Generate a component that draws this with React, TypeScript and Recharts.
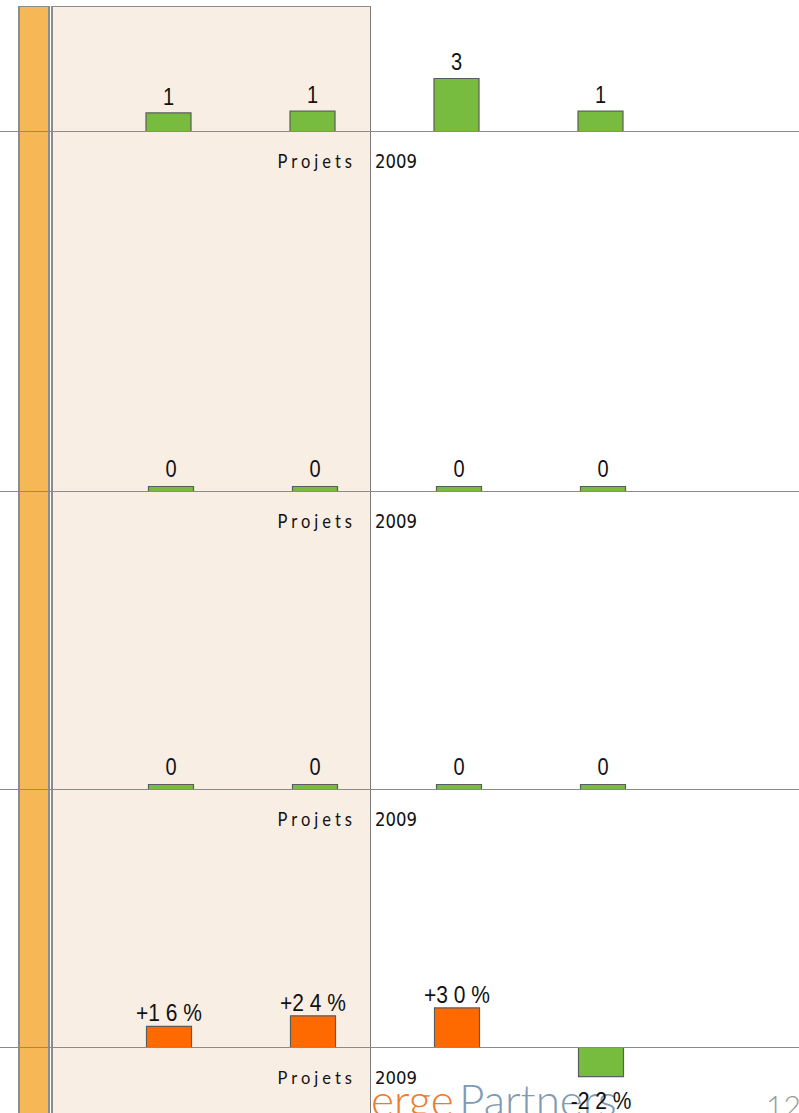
import React from 'react';
import { BarChart, Bar, XAxis, YAxis, ReferenceLine, LabelList, Cell } from 'recharts';

// ---- data ----
const categories = ['c1', 'c2', 'c3', 'c4'];
const projetsValues = [1.05, 1.15, 3, 1.15];
const projetsLabels = ['1', '1', '3', '1'];
const secondValues = [0, 0, 0, 0];
const secondLabels = ['0', '0', '0', '0'];
const thirdValues = [0, 0, 0, 0];
const thirdLabels = ['0', '0', '0', '0'];
const growthValues = [16, 24, 30, -22];
const growthLabels = ['+1 6 %', '+2 4 %', '+3 0 %', '-2 2 %'];
const rowTitle = 'Projets';
const yearTitle = '2009';
const footerA = 'erge';
const footerB = 'Partners';
const pageNumber = '12';

// ---- styles ----
const W = 799;
const BAND = 144;
const GREEN = '#77BB3F';
const ORANGE = '#FF6A00';
const STROKE = '#5c5c5c';
const LINE = '#8a8a8a';

type PanelProps = {
  top: number;
  height: number;
  baseline: number;
  pxPerUnit: number;
  padLeft: number;
  values: number[];
  labels: string[];
  colors: string[];
  minPoint: number;
  gapAbove: number;
  gapBelow: number;
  labelSize: number;
  stretch: number;
};

const makeLabel = (gapAbove: number, gapBelow: number, size: number, stretch: number) => (props: any) => {
  const vb = props.viewBox && props.viewBox.width !== undefined ? props.viewBox : props;
  const x = Number(vb.x);
  const y = Number(vb.y);
  const w = Number(vb.width);
  const h = Number(vb.height);
  const top = Math.min(y, y + h);
  const bottom = Math.max(y, y + h);
  const text = String(props.value ?? '');
  const neg = text.startsWith('-');
  const cx = x + w / 2;
  const by = neg ? bottom + gapBelow : top - gapAbove;
  return (
    <text
      x={cx}
      y={by}
      textAnchor="middle"
      fontFamily="'Liberation Sans', Arial, sans-serif"
      fontSize={size}
      fill="#111"
      transform={`translate(0 ${by}) scale(1 ${stretch}) translate(0 ${-by})`}
    >
      {text}
    </text>
  );
};

const makeHeader = (stretch: number) => (props: any) => {
  const vb = props.viewBox || {};
  const y = Number(vb.y ?? 0) + 37;
  return (
    <g>
      <text
        x={356}
        y={y}
        textAnchor="end"
        fontFamily="Lato, 'Open Sans', sans-serif"
        fontSize={16.5}
        letterSpacing={4}
        fill="#111"
        transform={`translate(0 ${y}) scale(1 ${stretch}) translate(0 ${-y})`}
      >
        {rowTitle}
      </text>
      <text
        x={375}
        y={y}
        textAnchor="start"
        fontFamily="'DejaVu Sans', Verdana, sans-serif"
        fontSize={16.5}
        fill="#111"
        transform={`translate(0 ${y}) scale(1 ${stretch}) translate(0 ${-y})`}
      >
        {yearTitle}
      </text>
    </g>
  );
};

function Panel(p: PanelProps) {
  const data = categories.map((c, i) => ({ cat: c, v: p.values[i], label: p.labels[i] }));
  const hi = (p.baseline - p.top) / p.pxPerUnit;
  const lo = -(p.top + p.height - p.baseline) / p.pxPerUnit;
  const padRight = W - p.padLeft - BAND * categories.length;
  return (
    <div style={{ position: 'absolute', left: 0, top: p.top, width: W, height: p.height }}>
      <BarChart
        width={W}
        height={p.height}
        data={data}
        margin={{ top: 0, right: 0, bottom: 0, left: 0 }}
        barCategoryGap={0}
        style={{ overflow: 'visible' }}
      >
        <XAxis dataKey="cat" hide padding={{ left: p.padLeft, right: padRight }} />
        <YAxis hide type="number" domain={[lo, hi]} allowDataOverflow />
        <ReferenceLine y={0} stroke={LINE} strokeWidth={1} label={makeHeader(p.stretch)} />
        <Bar
          dataKey="v"
          barSize={45}
          isAnimationActive={false}
          stroke={STROKE}
          strokeWidth={1.2}
          minPointSize={p.minPoint}
        >
          {data.map((d, i) => (
            <Cell key={i} fill={p.colors[i]} />
          ))}
          <LabelList dataKey="label" content={makeLabel(p.gapAbove, p.gapBelow, p.labelSize, p.stretch)} />
        </Bar>
      </BarChart>
    </div>
  );
}

export default function App() {
  const growthColors = growthValues.map((v) => (v >= 0 ? ORANGE : GREEN));
  const greens = categories.map(() => GREEN);
  return (
    <div
      style={{
        position: 'absolute',
        left: 0,
        top: 0,
        width: W,
        height: 1113,
        overflow: 'hidden',
        background: '#ffffff',
      }}
    >
      {/* left orange strip */}
      <div
        style={{
          position: 'absolute',
          left: 18,
          top: 6,
          width: 28,
          height: 1200,
          background: '#F6B857',
          borderLeft: '2px solid #8c8c8c',
          borderRight: '2px solid #8c8c8c',
          borderTop: '1px solid #8c8c8c',
        }}
      />
      {/* beige highlighted column */}
      <div
        style={{
          position: 'absolute',
          left: 51,
          top: 6,
          width: 317,
          height: 1200,
          background: '#F9EEE4',
          borderLeft: '2px solid #8c8c8c',
          borderRight: '1px solid #7a7a7a',
          borderTop: '1px solid #8c8c8c',
        }}
      />
      {/* footer */}
      <svg style={{ position: 'absolute', left: 0, top: 1060 }} width={W} height={53}>
        <text x={371} y={56} fontFamily="Lato, 'Open Sans', sans-serif" fontWeight={300} fontSize={44}>
          <tspan fill="#EE7A2E">{footerA}</tspan>
          <tspan fill="#7F9AB2" dx={6}>{footerB}</tspan>
        </text>
        <text x={766} y={57} fontFamily="Lato, 'Open Sans', sans-serif" fontWeight={300} fontSize={30} fill="#9a9a9a">
          {pageNumber}
        </text>
      </svg>

      <Panel
        top={20}
        height={160}
        baseline={131.5}
        pxPerUnit={17.67}
        padLeft={96}
        values={projetsValues}
        labels={projetsLabels}
        colors={greens}
        minPoint={0}
        gapAbove={8}
        gapBelow={33}
        labelSize={20}
        stretch={1.15}
      />
      <Panel
        top={440}
        height={100}
        baseline={491.5}
        pxPerUnit={10}
        padLeft={98.5}
        values={secondValues}
        labels={secondLabels}
        colors={greens}
        minPoint={5}
        gapAbove={9}
        gapBelow={33}
        labelSize={20}
        stretch={1.15}
      />
      <Panel
        top={740}
        height={100}
        baseline={789.5}
        pxPerUnit={10}
        padLeft={98.5}
        values={thirdValues}
        labels={thirdLabels}
        colors={greens}
        minPoint={5}
        gapAbove={9}
        gapBelow={33}
        labelSize={20}
        stretch={1.15}
      />
      <Panel
        top={960}
        height={153}
        baseline={1047.5}
        pxPerUnit={1.32}
        padLeft={96.5}
        values={growthValues}
        labels={growthLabels}
        colors={growthColors}
        minPoint={0}
        gapAbove={5}
        gapBelow={32}
        labelSize={21}
        stretch={1.1}
      />
    </div>
  );
}
